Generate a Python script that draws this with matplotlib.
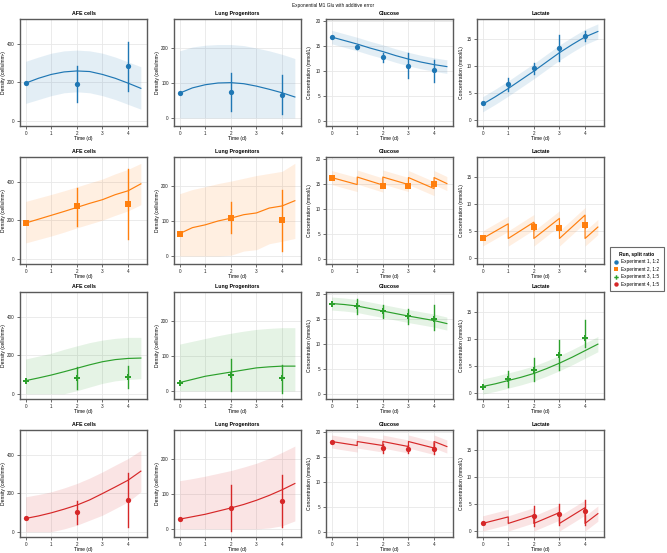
import matplotlib
matplotlib.use("Agg")
import matplotlib.pyplot as plt
from matplotlib.lines import Line2D

plt.rcParams['font.family'] = ['Liberation Sans', 'DejaVu Sans']

# ---------------- data ----------------
title = "Exponential M1 Glu with additive error"
panel_titles = ["AFE cells", "Lung Progenitors", "Glucose", "Lactate"]
ylabels = ["Density (cells/mm²)", "Density (cells/mm²)",
           "Concentration (mmol/L)", "Concentration (mmol/L)"]
run_labels = ["Experiment 1, 1:2", "Experiment 2, 1:2", "Experiment 3, 1:5", "Experiment 4, 1:5"]
run_colors = ["#1f77b4", "#ff7f0e", "#2ca02c", "#d62728"]
run_markers = ["o", "s", "P", "o"]

t_grid = [0, 0.5, 1, 1.5, 2, 2.5, 3, 3.5, 4, 4.5]
t_saw = [0, 1, 1, 2, 2, 3, 3, 4, 4, 4.5]
t_cells = [0, 2, 4]
t_daily = [0, 1, 2, 3, 4]
t_fed = [0, 2, 3, 4]

# Experiment 1
afe1_fit = [195, 220, 240, 253, 258, 255, 240, 220, 195, 168]
afe1_band_lo = [90, 110, 130, 145, 150, 145, 130, 110, 85, 60]
afe1_band_hi = [308, 330, 350, 362, 366, 362, 350, 330, 305, 280]
afe1_obs = [195, 188, 282]
afe1_err_lo = [195, 95, 155]
afe1_err_hi = [195, 283, 408]
lp1_fit = [71, 86, 95, 100, 101, 98, 91, 82, 72, 60]
lp1_band_lo = [0, 0, 0, 0, 0, 0, 0, 0, 0, 0]
lp1_band_hi = [192, 203, 208, 210, 210, 207, 200, 192, 182, 170]
lp1_obs = [71, 75, 67]
lp1_err_lo = [71, 21, 11]
lp1_err_hi = [71, 128, 123]
glu1_fit = [16.7, 16.0, 15.3, 14.5, 13.8, 13.0, 12.3, 11.7, 11.2, 10.8]
glu1_half = 1.35
glu1_obs = [16.7, 14.8, 12.8, 11.0, 10.1]
glu1_err_lo = [16.7, 14.3, 11.8, 8.5, 7.8]
glu1_err_hi = [16.7, 15.1, 13.5, 13.5, 12.2]
lac1_fit = [2.9, 4.3, 5.8, 7.4, 9.0, 10.7, 12.4, 13.9, 15.3, 16.3]
lac1_half = 1.4
lac1_obs = [3.05, 6.6, 9.6, 13.2, 15.4]
lac1_err_lo = [3.05, 5.4, 8.4, 10.9, 14.5]
lac1_err_hi = [3.05, 7.8, 10.5, 15.7, 16.3]

# Experiment 2
afe2_fit = [185, 205, 225, 245, 266, 287, 306, 332, 352, 388]
afe2_band_lo = [82, 100, 118, 138, 160, 180, 200, 225, 248, 280]
afe2_band_hi = [297, 315, 333, 352, 372, 393, 413, 440, 463, 494]
afe2_obs = [185, 271, 283]
afe2_err_lo = [185, 168, 105]
afe2_err_hi = [185, 369, 463]
lp2_fit = [64, 81, 89, 100, 108, 118, 123, 137, 143, 158]
lp2_band_lo = [0, 0, 0, 0, 2, 14, 18, 35, 42, 50]
lp2_band_hi = [178, 190, 198, 207, 214, 222, 230, 236, 242, 265]
lp2_obs = [64, 109, 103]
lp2_err_lo = [64, 66, 15]
lp2_err_hi = [64, 155, 190]
glu2_fit = [16.2, 14.8, 16.3, 14.7, 16.3, 14.8, 16.2, 14.0, 16.2, 15.0]
glu2_half = 1.4
glu2_obs = [16.2, 14.5, 14.5, 15.0]
glu2_err_lo = [16.2, 14.3, 14.3, 14.6]
glu2_err_hi = [16.2, 14.8, 14.8, 15.5]
lac2_fit = [3.6, 6.3, 3.6, 6.6, 3.6, 7.3, 3.6, 7.9, 3.6, 5.7]
lac2_half = 1.4
lac2_obs = [3.6, 5.7, 5.6, 6.0]
lac2_err_lo = [3.6, 5.2, 5.3, 5.6]
lac2_err_hi = [3.6, 6.5, 6.0, 6.5]

# Experiment 3
afe3_fit = [68, 82, 97, 114, 132, 150, 166, 177, 183, 185]
afe3_band_lo = [0, 0, 0, 0, 16, 35, 54, 67, 74, 78]
afe3_band_hi = [180, 195, 210, 230, 248, 265, 278, 287, 292, 292]
afe3_obs = [68, 80, 89]
afe3_err_lo = [68, 26, 29]
afe3_err_hi = [68, 137, 145]
lp3_fit = [24, 33, 42, 48, 54, 60, 66, 69, 71, 71]
lp3_band_lo = [0, 0, 0, 0, 0, 0, 0, 0, 0, 0]
lp3_band_hi = [134, 142, 150, 158, 165, 171, 176, 179, 181, 181]
lp3_obs = [24, 45, 38]
lp3_err_lo = [24, 0, -7]
lp3_err_hi = [24, 90, 75]
glu3_fit = [18.0, 17.8, 17.5, 17.0, 16.5, 16.0, 15.5, 15.05, 14.6, 14.0]
glu3_half = 1.3
glu3_obs = [18.0, 17.5, 16.5, 15.5, 15.0]
glu3_err_lo = [18.0, 16.0, 15.1, 14.0, 12.7]
glu3_err_hi = [18.0, 18.9, 17.7, 17.0, 17.7]
lac3_fit = [1.2, 1.7, 2.3, 2.9, 3.6, 4.5, 5.5, 6.6, 7.8, 9.0]
lac3_half = 1.4
lac3_obs = [1.2, 2.6, 4.3, 7.0, 10.1]
lac3_err_lo = [1.2, 1.2, 2.3, 4.3, 8.5]
lac3_err_hi = [1.2, 4.0, 6.4, 9.8, 13.5]

# Experiment 4
afe4_fit = [69, 82, 98, 117, 138, 165, 198, 232, 267, 314]
afe4_band_lo = [0, 0, 0, 15, 34, 60, 86, 120, 155, 207]
afe4_band_hi = [181, 193, 207, 227, 250, 278, 310, 345, 379, 422]
afe4_obs = [69, 102, 166]
afe4_err_lo = [69, 40, 26]
afe4_err_hi = [69, 159, 305]
lp4_fit = [28, 35, 42, 51, 60, 70, 82, 96, 112, 130]
lp4_band_lo = [0, 0, 0, 0, 0, 0, 0, 3, 9, 23]
lp4_band_hi = [138, 144, 151, 159, 167, 177, 188, 202, 219, 237]
lp4_obs = [28, 60, 79]
lp4_err_lo = [28, -5, 5]
lp4_err_hi = [28, 126, 153]
glu4_fit = [18.0, 17.2, 18.0, 17.2, 18.0, 17.0, 18.0, 16.7, 18.0, 17.0]
glu4_half = 1.3
glu4_obs = [18.0, 16.7, 16.5, 16.6]
glu4_err_lo = [18.0, 15.7, 15.7, 15.5]
glu4_err_hi = [18.0, 17.5, 17.3, 17.7]
lac4_fit = [1.4, 2.6, 1.4, 2.9, 1.4, 3.4, 1.4, 4.3, 1.4, 3.2]
lac4_half = 1.4
lac4_obs = [1.4, 2.75, 3.05, 3.7]
lac4_err_lo = [1.4, 0.9, 1.2, 1.2]
lac4_err_hi = [1.4, 4.6, 4.9, 5.8]

ylims = [(-27, 527), (-23, 283), (-1.05, 20.3), (-1.1, 18.6)]
yticks = [[0, 200, 400], [0, 100, 200], [0, 5, 10, 15, 20], [0, 5, 10, 15]]

# --------------- assemble panel specs ---------------
def sym_band(fit, half):
    return [v - half for v in fit], [v + half for v in fit]

panels = [
    [(t_grid, afe1_fit, afe1_band_lo, afe1_band_hi, t_cells, afe1_obs, afe1_err_lo, afe1_err_hi),
     (t_grid, lp1_fit, lp1_band_lo, lp1_band_hi, t_cells, lp1_obs, lp1_err_lo, lp1_err_hi),
     (t_grid, glu1_fit, *sym_band(glu1_fit, glu1_half), t_daily, glu1_obs, glu1_err_lo, glu1_err_hi),
     (t_grid, lac1_fit, *sym_band(lac1_fit, lac1_half), t_daily, lac1_obs, lac1_err_lo, lac1_err_hi)],
    [(t_grid, afe2_fit, afe2_band_lo, afe2_band_hi, t_cells, afe2_obs, afe2_err_lo, afe2_err_hi),
     (t_grid, lp2_fit, lp2_band_lo, lp2_band_hi, t_cells, lp2_obs, lp2_err_lo, lp2_err_hi),
     (t_saw, glu2_fit, *sym_band(glu2_fit, glu2_half), t_fed, glu2_obs, glu2_err_lo, glu2_err_hi),
     (t_saw, lac2_fit, *sym_band(lac2_fit, lac2_half), t_fed, lac2_obs, lac2_err_lo, lac2_err_hi)],
    [(t_grid, afe3_fit, afe3_band_lo, afe3_band_hi, t_cells, afe3_obs, afe3_err_lo, afe3_err_hi),
     (t_grid, lp3_fit, lp3_band_lo, lp3_band_hi, t_cells, lp3_obs, lp3_err_lo, lp3_err_hi),
     (t_grid, glu3_fit, *sym_band(glu3_fit, glu3_half), t_daily, glu3_obs, glu3_err_lo, glu3_err_hi),
     (t_grid, lac3_fit, *sym_band(lac3_fit, lac3_half), t_daily, lac3_obs, lac3_err_lo, lac3_err_hi)],
    [(t_grid, afe4_fit, afe4_band_lo, afe4_band_hi, t_cells, afe4_obs, afe4_err_lo, afe4_err_hi),
     (t_grid, lp4_fit, lp4_band_lo, lp4_band_hi, t_cells, lp4_obs, lp4_err_lo, lp4_err_hi),
     (t_saw, glu4_fit, *sym_band(glu4_fit, glu4_half), t_fed, glu4_obs, glu4_err_lo, glu4_err_hi),
     (t_saw, lac4_fit, *sym_band(lac4_fit, lac4_half), t_fed, lac4_obs, lac4_err_lo, lac4_err_hi)],
]

# --------------- figure ---------------
W, H = 667, 553
fig = plt.figure(figsize=(W / 100, H / 100), dpi=100)
fig.text(0.5, 1 - 5 / H, title, ha='center', va='center', fontsize=3.4, color="#111111")

col_left = [20, 174, 326, 477]
row_top = [19, 157, 292, 430]
aw, ah = 127, 107
frame_col = "#5a5a5a"

for r in range(4):
    color = run_colors[r]
    for c in range(4):
        ax = fig.add_axes([col_left[c] / W, 1 - (row_top[r] + ah) / H, aw / W, ah / H])
        ft, fy, blo, bhi, ot, oy, elo, ehi = panels[r][c]
        ax.fill_between(ft, blo, bhi, color=color, alpha=0.12, linewidth=0, zorder=1)
        ax.plot(ft, fy, color=color, lw=0.85, zorder=2)
        for x, lo, hi in zip(ot, elo, ehi):
            ax.plot([x, x], [lo, hi], color=color, lw=1.0, zorder=3)
        ax.plot(ot, oy, linestyle='none', marker=run_markers[r], color=color,
                markersize=3.8, markeredgewidth=0, zorder=4)
        ax.set_xlim(-0.22, 4.74)
        ax.set_ylim(*ylims[c])
        ax.set_xticks([0, 1, 2, 3, 4])
        ax.set_yticks(yticks[c])
        ax.grid(True, color="#e8e8e8", lw=0.6, zorder=0)
        ax.set_axisbelow(True)
        for s in ax.spines.values():
            s.set_color(frame_col)
            s.set_linewidth(1.0)
        ax.tick_params(direction='out', length=2.2, width=0.5, color="#333333",
                       labelsize=3.3, pad=1.6, labelcolor="#222222")
        ax.set_title(panel_titles[c], fontsize=3.8, fontweight='bold', pad=3)
        ax.set_xlabel("Time (d)", fontsize=3.6)
        ax.set_ylabel(ylabels[c], fontsize=3.6)
        ax.xaxis.set_label_coords(0.5, -12.5 / ah)
        ax.xaxis.label.set_va('center')
        ax.yaxis.set_label_coords(-16.0 / aw, 0.5)
        ax.yaxis.label.set_va('center')

handles = [Line2D([], [], linestyle='none', marker=m, color=col, markersize=3.2, markeredgewidth=0)
           for m, col in zip(run_markers, run_colors)]
leg = fig.legend(handles, run_labels, title="Run, split ratio", loc='upper right',
                 bbox_to_anchor=(666 / W, 1 - 245 / H), fontsize=3.4, title_fontsize=3.6,
                 frameon=True, fancybox=False, edgecolor="#444444", handlelength=0.8,
                 handletextpad=0.7, borderpad=0.9, labelspacing=0.55)
leg.get_title().set_fontweight('bold')
leg.get_frame().set_linewidth(0.8)

fig.savefig("out.png", dpi=100)
